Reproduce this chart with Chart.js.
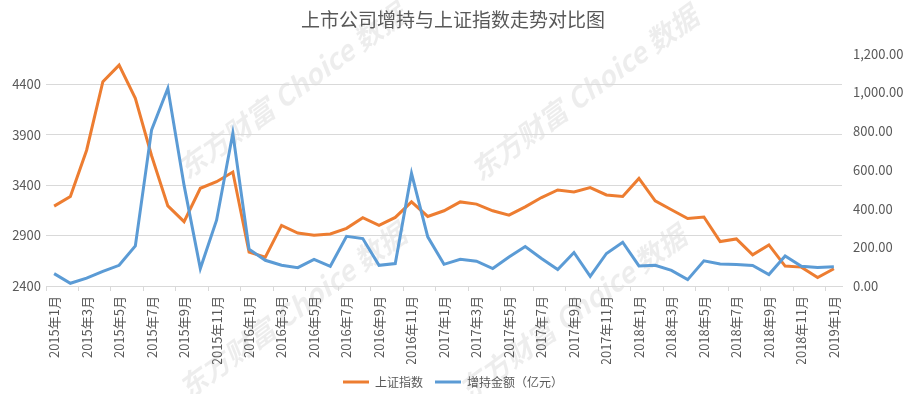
<!DOCTYPE html>
<html>
<head>
<meta charset="utf-8">
<script src="https://cdn.jsdelivr.net/npm/chart.js@4/dist/chart.umd.min.js"></script>
<style>
    html, body { margin: 0; padding: 0; background: #fff; }
    #wrap { width: 906px; height: 394px; }
</style>
</head>
<body>
<div id="wrap"><canvas id="trendChart" width="906" height="394"></canvas></div>
<script>
const months = [
    '2015年1月', '2015年2月', '2015年3月', '2015年4月', '2015年5月', '2015年6月', '2015年7月', '2015年8月', '2015年9月', '2015年10月', '2015年11月', '2015年12月',
    '2016年1月', '2016年2月', '2016年3月', '2016年4月', '2016年5月', '2016年6月', '2016年7月', '2016年8月', '2016年9月', '2016年10月', '2016年11月', '2016年12月',
    '2017年1月', '2017年2月', '2017年3月', '2017年4月', '2017年5月', '2017年6月', '2017年7月', '2017年8月', '2017年9月', '2017年10月', '2017年11月', '2017年12月',
    '2018年1月', '2018年2月', '2018年3月', '2018年4月', '2018年5月', '2018年6月', '2018年7月', '2018年8月', '2018年9月', '2018年10月', '2018年11月', '2018年12月',
    '2019年1月'
];

// 上证指数 (left axis)
const sseIndex = [
    3191, 3286, 3745, 4424, 4588, 4260, 3690, 3194, 3037, 3368, 3433, 3529,
    2735, 2685, 3000, 2925, 2902, 2915, 2971, 3076, 3000, 3079, 3233, 3089,
    3145, 3233, 3211, 3145, 3102, 3184, 3276, 3351, 3332, 3374, 3302, 3286,
    3465, 3243, 3155, 3069, 3083, 2840, 2866, 2709, 2807, 2597, 2587, 2483,
    2571
];

// 增持金额 in 亿元 (right axis)
const buybackAmount = [
    64, 14, 41, 76, 107, 207, 807, 1022, 520, 90, 340, 789,
    190, 133, 107, 95, 138, 102, 257, 245, 107, 116, 582, 254,
    112, 138, 128, 90, 150, 204, 142, 85, 173, 50, 168, 226,
    104, 107, 81, 33, 130, 114, 111, 106, 59, 155, 102, 95,
    100
];

const leftTicks = [2400, 2900, 3400, 3900, 4400];
const rightTicks = [0, 200, 400, 600, 800, 1000, 1200];

const fontFamily = '"Microsoft YaHei", "Noto Sans CJK SC", sans-serif';
const textColor = '#595959';
const gridColor = '#d9d9d9';

// light diagonal watermark behind the lines
const watermark = {
    id: 'watermark',
    beforeDraw(chart) {
        const ctx = chart.ctx;
        ctx.save();
        ctx.fillStyle = '#fff';
        ctx.fillRect(0, 0, chart.width, chart.height);
        ctx.fillStyle = 'rgba(0, 0, 0, 0.07)';
        ctx.font = 'italic bold 28px ' + fontFamily;
        ctx.textBaseline = 'alphabetic';
        [[187, 180], [480, 182], [188, 400], [468, 402]].forEach(([x, y]) => {
            ctx.save();
            ctx.translate(x, y);
            ctx.rotate(-0.63);
            ctx.fillText('东方财富 Choice 数据', 0, 0);
            ctx.restore();
        });
        ctx.restore();
    }
};

new Chart(document.getElementById('trendChart'), {
    type: 'line',
    data: {
        labels: months,
        datasets: [{
            label: '上证指数',
            data: sseIndex,
            yAxisID: 'yLeft',
            borderColor: '#ED7D31',
            backgroundColor: '#ED7D31',
            borderWidth: 3,
            pointRadius: 0,
            tension: 0,
            order: 1
        }, {
            label: '增持金额（亿元）',
            data: buybackAmount,
            yAxisID: 'yRight',
            borderColor: '#5B9BD5',
            backgroundColor: '#5B9BD5',
            borderWidth: 3,
            pointRadius: 0,
            tension: 0,
            order: 0
        }]
    },
    options: {
        responsive: false,
        animation: false,
        devicePixelRatio: 1,
        layout: { padding: { bottom: -4 } },
        plugins: {
            title: {
                display: true,
                text: '上市公司增持与上证指数走势对比图',
                color: textColor,
                font: { family: fontFamily, size: 19, weight: 'normal' },
                padding: { top: 8, bottom: 23 }
            },
            legend: {
                position: 'bottom',
                labels: {
                    usePointStyle: true,
                    pointStyle: 'line',
                    pointStyleWidth: 26,
                    color: textColor,
                    font: { family: fontFamily, size: 12 },
                    padding: 12,
                    sort: (a, b) => a.datasetIndex - b.datasetIndex
                }
            },
            tooltip: { enabled: false }
        },
        scales: {
            x: {
                offset: true,
                afterFit: (scale) => { scale.height = 78; },
                grid: {
                    offset: true,
                    drawOnChartArea: false,
                    drawTicks: true,
                    tickLength: 5,
                    color: (ctx) => ctx.index % 2 === 0 ? gridColor : 'rgba(0,0,0,0)'
                },
                border: { display: true, color: gridColor },
                ticks: {
                    autoSkip: false,
                    minRotation: 90,
                    maxRotation: 90,
                    padding: 5,
                    color: textColor,
                    font: { family: fontFamily, size: 13 },
                    callback: function (value, index) {
                        return index % 2 === 0 ? this.getLabelForValue(value) : '';
                    }
                }
            },
            yLeft: {
                position: 'left',
                min: 2400,
                max: 4700,
                afterFit: (scale) => { scale.width = 46; },
                afterBuildTicks: (scale) => {
                    scale.ticks = leftTicks.map(v => ({ value: v }));
                },
                grid: { color: gridColor, drawTicks: false },
                border: { display: false },
                ticks: {
                    padding: 5,
                    color: textColor,
                    font: { family: fontFamily, size: 13 },
                    callback: (v) => String(v)
                }
            },
            yRight: {
                position: 'right',
                min: 0,
                max: 1200,
                afterFit: (scale) => { scale.width = 64; },
                afterBuildTicks: (scale) => {
                    scale.ticks = rightTicks.map(v => ({ value: v }));
                },
                grid: { display: false, drawTicks: false },
                border: { display: false },
                ticks: {
                    padding: 11,
                    color: textColor,
                    font: { family: fontFamily, size: 13 },
                    callback: (v) => v.toLocaleString('en-US', { minimumFractionDigits: 2, maximumFractionDigits: 2 })
                }
            }
        }
    },
    plugins: [watermark]
});
</script>
</body>
</html>
